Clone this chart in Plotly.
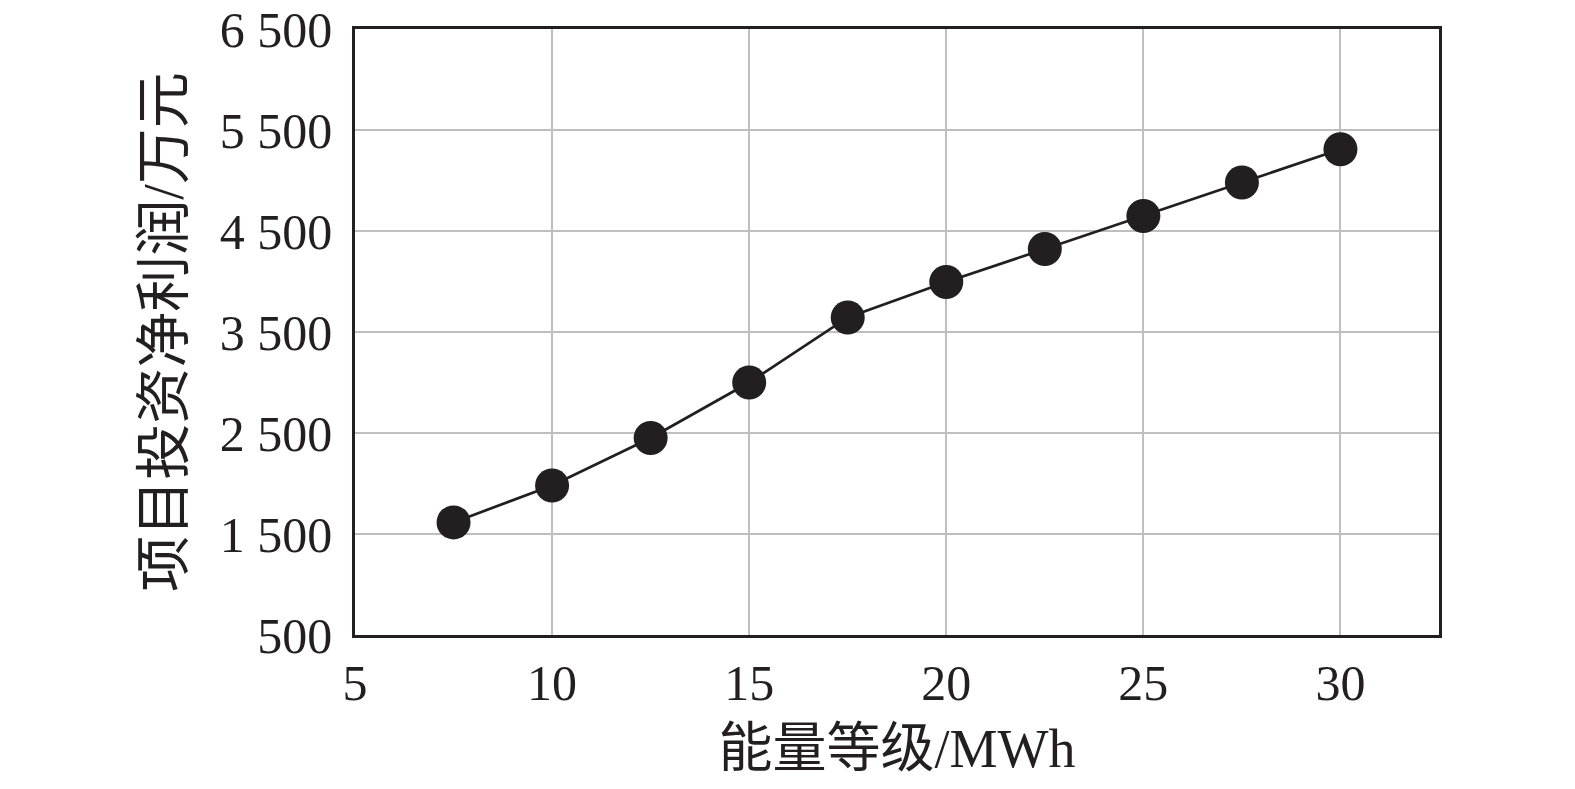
import plotly.graph_objects as go

energy_mwh = [7.5, 10, 12.5, 15, 17.5, 20, 22.5, 25, 27.5, 30]
net_profit = [1615, 1980, 2450, 3000, 3644, 3995, 4322, 4648, 4981, 5309]

x_ticks = [5, 10, 15, 20, 25, 30]
y_ticks = [500, 1500, 2500, 3500, 4500, 5500, 6500]
y_tick_text = ["500", "1 500", "2 500", "3 500", "4 500", "5 500", "6 500"]

x_title = "能量等级/MWh"
y_title = "项目投资净利润/万元"

font_family = "Liberation Serif, Noto Sans CJK SC, serif"

fig = go.Figure()
fig.add_trace(go.Scatter(
    x=energy_mwh, y=net_profit, mode="lines+markers",
    line=dict(color="#231f20", width=2.7),
    marker=dict(color="#231f20", size=34, symbol="circle"),
    showlegend=False,
))

fig.update_layout(
    width=1575, height=789,
    margin=dict(l=347, r=144, t=21, b=162),
    paper_bgcolor="white", plot_bgcolor="white",
    font=dict(family=font_family, color="#231f20", size=50),
)
fig.update_xaxes(
    range=[5, 32.5], tickvals=x_ticks, ticktext=[str(v) for v in x_ticks],
    showgrid=True, gridcolor="#bfbfbf", gridwidth=2,
    showline=True, linecolor="#231f20", linewidth=2.5, mirror=True,
    ticks="", zeroline=False, automargin=False, ticklabelstandoff=2,
    ticklabeloverflow="allow",
    tickfont=dict(size=50, family=font_family),
    title=dict(text=x_title, font=dict(size=54, family=font_family), standoff=20),
)
fig.update_yaxes(
    range=[500, 6500], tickvals=y_ticks, ticktext=y_tick_text,
    showgrid=True, gridcolor="#bfbfbf", gridwidth=2,
    showline=True, linecolor="#231f20", linewidth=2.5, mirror=True,
    ticks="", zeroline=False, automargin=False, ticklabelstandoff=10,
    ticklabeloverflow="allow",
    tickfont=dict(size=50, family=font_family),
    title=dict(text=y_title, font=dict(size=56, family=font_family), standoff=19),
)

fig.write_html("out.html")
